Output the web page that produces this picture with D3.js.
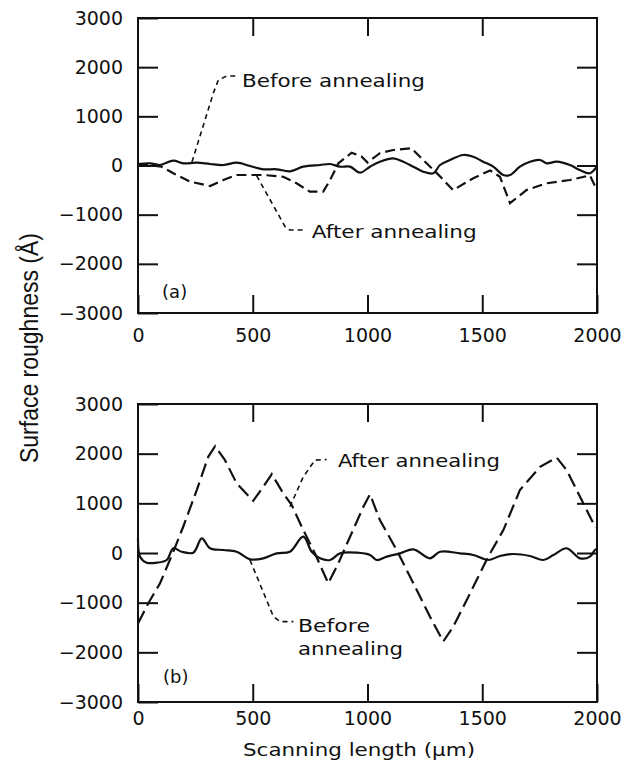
<!DOCTYPE html>
<html><head><meta charset="utf-8">
<script src="https://cdn.jsdelivr.net/npm/d3@7"></script>
<style>body{margin:0;background:#fff}svg{display:block}</style>
</head><body>
<script>
// ---------- data ----------
const yTicks = [-3000,-2000,-1000,0,1000,2000,3000];
const xTicks = [0,500,1000,1500,2000];
const xTickLabels = ["0","500","1000","1500","2000"];

// Panel (a) before annealing (solid)
const aBeforeX = [0,52,96,154,197,256,314,372,430,488,546,604,662,720,793,837,880,924,967,1011,1054,1112,1156,1200,1243,1287,1316,1359,1417,1461,1504,1548,1592,1621,1664,1708,1752,1781,1824,1882,1925,1969,2000];
const aBeforeY = [30,45,10,98,45,57,30,10,57,-10,-77,-77,-118,-24,10,30,-24,-24,-146,-24,77,146,77,-24,-126,-158,10,112,213,179,77,-24,-194,-194,-24,77,112,45,77,10,-92,-158,-20];
// Panel (a) after annealing (dashed)
const aAfterX = [0,103,154,227,314,372,430,546,633,691,749,807,837,873,931,975,1000,1054,1112,1192,1243,1301,1373,1461,1534,1577,1621,1693,1780,1882,1969,2000];
const aAfterY = [30,-24,-158,-329,-417,-295,-193,-193,-228,-362,-532,-532,-295,45,260,180,60,250,315,350,110,-150,-500,-260,-100,-228,-766,-500,-362,-295,-200,-500];

// Panel (b) before annealing (solid)
const bBeforeX = [0,9,38,81,125,154,190,241,278,314,372,430,488,546,604,662,720,757,793,837,880,953,1011,1040,1084,1142,1200,1272,1316,1403,1461,1526,1577,1635,1708,1766,1810,1868,1926,1969,1991,2000];
const bBeforeY = [295,-74,-195,-195,-141,95,26,6,295,95,60,26,-127,-107,-7,26,328,26,-107,-141,-7,6,-40,-141,-74,-7,74,-107,26,-7,-40,-141,-60,-20,-60,-141,-40,95,-107,-74,60,80];
// Panel (b) after annealing (dashed)
const bAfterX = [0,45,96,154,197,256,306,336,379,430,502,546,583,633,670,720,771,829,873,924,982,1011,1054,1127,1200,1272,1330,1374,1447,1526,1592,1664,1752,1824,1868,1926,1984,2000];
const bAfterY = [-1420,-1011,-610,26,529,1266,1936,2151,1869,1401,1051,1333,1588,1200,965,462,-7,-610,-207,328,931,1180,663,60,-610,-1280,-1783,-1481,-810,-74,462,1266,1735,1923,1668,1132,597,500];

// annotations (data units)
const annA = [
  {leaderX:[235,328,350,386,428], leaderY:[70,1467,1738,1819,1819], tx:453, ty:[1597], text:["Before annealing"], len:[183]},
  {leaderX:[517,641,662,720], leaderY:[-207,-1245,-1312,-1312], tx:757, ty:[-1481], text:["After annealing"], len:[165]}
];
const annB = [
  {leaderX:[662,720,771,822], leaderY:[931,1533,1869,1883], tx:871, ty:[1735], text:["After annealing"], len:[162]},
  {leaderX:[488,590,619,677], leaderY:[-141,-1280,-1381,-1381], tx:697, ty:[-1588,-2050], text:["Before","annealing"], len:[72,105]}
];

// ---------- drawing ----------
const W = 626, H = 767;
const svg = d3.select("body").append("svg").attr("width", W).attr("height", H);
const x = d3.scaleLinear().domain([0,2000]).range([138,597]);
const panels = [
  {y: d3.scaleLinear().domain([-3000,3000]).range([313,18]), before:[aBeforeX,aBeforeY], after:[aAfterX,aAfterY], dash:"10,5", ann:annA, label:"(a)", lx:105, ly:-2695, xpad:15.5},
  {y: d3.scaleLinear().domain([-3000,3000]).range([702,404]), before:[bBeforeX,bBeforeY], after:[bAfterX,bAfterY], dash:"14,6", ann:annB, label:"(b)", lx:109, ly:-2613, xpad:9.5}
];
const ink = "#111";
const tickFont = "'DejaVu Sans', sans-serif";

panels.forEach(p => {
  const g = svg.append("g");
  const [top, bot] = [p.y(3000), p.y(-3000)];
  // axes
  const left = g.append("g").attr("transform", `translate(${x(0)},0)`)
    .call(d3.axisLeft(p.y).tickValues(yTicks).tickSize(-20).tickPadding(15).tickFormat(d => d < 0 ? "\u2212" + Math.abs(d) : String(d)));
  const right = g.append("g").attr("transform", `translate(${x(2000)},0)`)
    .call(d3.axisRight(p.y).tickValues(yTicks.slice(1,-1)).tickSize(-20).tickFormat(""));
  const bottom = g.append("g").attr("transform", `translate(0,${bot})`)
    .call(d3.axisBottom(x).tickValues(xTicks).tickSize(-18).tickPadding(p.xpad).tickFormat((d,i) => xTickLabels[i]));
  const topAx = g.append("g").attr("transform", `translate(0,${top})`)
    .call(d3.axisTop(x).tickValues(xTicks.slice(1,-1)).tickSize(-18).tickFormat(""));
  [left,right,bottom,topAx].forEach(a => {
    a.select(".domain").remove();
    a.selectAll("line").attr("stroke", ink).attr("stroke-width", 2);
    a.selectAll("text").attr("fill", ink).style("font-family", tickFont).style("font-size", "19px");
  });
  // frame
  g.append("rect").attr("x", x(0)).attr("y", top).attr("width", x(2000)-x(0)).attr("height", bot-top)
    .attr("fill", "none").attr("stroke", ink).attr("stroke-width", 2);

  const line = d3.line().x(d => x(d[0])).y(d => p.y(d[1]));
  const zip = (xs, ys) => xs.map((v,i) => [v, ys[i]]);
  g.append("path").datum(zip(...p.before)).attr("d", line.curve(d3.curveCatmullRom.alpha(0.5)))
    .attr("fill","none").attr("stroke", ink).attr("stroke-width", 2.2).attr("stroke-linejoin","round");
  g.append("path").datum(zip(...p.after)).attr("d", d3.line().x(d => x(d[0])).y(d => p.y(d[1])))
    .attr("fill","none").attr("stroke", ink).attr("stroke-width", 2.2).attr("stroke-dasharray", p.dash);

  // annotations
  p.ann.forEach(a => {
    g.append("path").datum(zip(a.leaderX, a.leaderY))
      .attr("d", d3.line().x(d => x(d[0])).y(d => p.y(d[1])))
      .attr("fill","none").attr("stroke", ink).attr("stroke-width", 1.6).attr("stroke-dasharray","5,4");
    a.text.forEach((t,i) => {
      g.append("text").attr("x", x(a.tx)).attr("y", p.y(a.ty[i])).text(t)
        .attr("fill", ink).style("font-family", tickFont).style("font-size", "18px")
        .attr("textLength", a.len[i]).attr("lengthAdjust", "spacingAndGlyphs");
    });
  });
  g.append("text").attr("x", x(p.lx)).attr("y", p.y(p.ly)).text(p.label)
    .attr("fill", ink).style("font-family", tickFont).style("font-size", "18px");
});

// axis titles
svg.append("text").attr("transform", "translate(38,348) rotate(-90)")
  .attr("text-anchor", "middle").text("Surface roughness (\u00C5)")
  .attr("fill", ink).style("font-family", "'Liberation Sans', Arial, sans-serif").style("font-size", "25px")
  .attr("textLength", 230).attr("lengthAdjust", "spacingAndGlyphs");
svg.append("text").attr("x", 359).attr("y", 756).attr("text-anchor", "middle")
  .text("Scanning length (\u03BCm)")
  .attr("fill", ink).style("font-family", tickFont).style("font-size", "18px")
  .attr("textLength", 232).attr("lengthAdjust", "spacingAndGlyphs");
</script>
</body></html>
